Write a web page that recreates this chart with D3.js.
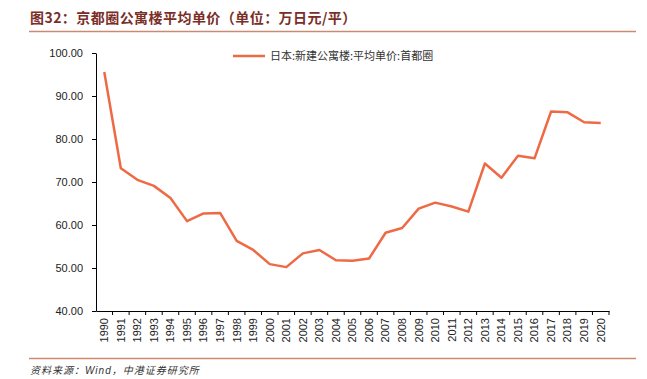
<!DOCTYPE html>
<html><head><meta charset="utf-8">
<script src="https://cdn.jsdelivr.net/npm/d3@7"></script>
<style>body{margin:0;background:#fff;}svg{display:block;}</style>
</head><body>
<svg id="c" width="647" height="379"></svg>
<script>
const years = ["1990","1991","1992","1993","1994","1995","1996","1997","1998","1999","2000","2001","2002","2003","2004","2005","2006","2007","2008","2009","2010","2011","2012","2013","2014","2015","2016","2017","2018","2019","2020"];
const prices = [95.6,73.2,70.5,69.1,66.3,60.9,62.7,62.8,56.3,54.2,50.9,50.2,53.4,54.2,51.8,51.7,52.2,58.2,59.3,63.8,65.2,64.3,63.1,74.3,71.0,76.1,75.5,86.4,86.2,83.9,83.7];
const yTicks = [40,50,60,70,80,90,100];
const titleText = "图32：京都圈公寓楼平均单价（单位：万日元/平）";
const legendText = "日本:新建公寓楼:平均单价:首都圈";
const sourceText = "资料来源：Wind，中港证券研究所";

const svg = d3.select("#c");
const font = "'Liberation Sans', Arial, 'Noto Sans CJK SC', sans-serif";
const lineColor = "#ee6a44";

// title
svg.append("text").attr("x",30).attr("y",23).text(titleText)
  .attr("font-family","'Noto Sans CJK SC', sans-serif").attr("font-weight","bold")
  .attr("font-size",14).attr("letter-spacing",0.45).attr("fill","#7a2e28");
svg.append("line").attr("x1",29).attr("x2",636).attr("y1",31.5).attr("y2",31.5)
  .attr("stroke","#c98a72").attr("stroke-width",1.5);

const x = d3.scaleBand().domain(years).range([96,609]);
const y = d3.scaleLinear().domain([40,100]).range([311,53]);

const g = svg.append("g");
const yAxis = g.append("g").attr("transform","translate(96,0)")
  .call(d3.axisLeft(y).tickValues(yTicks).tickFormat(d3.format(".2f")).tickSize(4).tickSizeOuter(0));
const xAxis = g.append("g").attr("transform","translate(0,311)")
  .call(d3.axisBottom(x).tickSize(0).tickSizeOuter(0));
// ticks at band boundaries
xAxis.selectAll(".bnd").data(years).enter().append("line")
  .attr("x1",d=>x(d)+x.bandwidth()).attr("x2",d=>x(d)+x.bandwidth())
  .attr("y1",0).attr("y2",4).attr("stroke","#000");
[yAxis,xAxis].forEach(a=>{
  a.select(".domain").attr("stroke","#000");
  a.selectAll(".tick line").attr("stroke","#000");
  a.selectAll("text").attr("font-family",font).attr("font-size",11).attr("fill","#222");
});
yAxis.selectAll("text").attr("x",-13);
xAxis.selectAll(".tick text")
  .attr("transform","rotate(-90)")
  .attr("text-anchor","end").attr("dy","0.35em").attr("dx","0").attr("x",-7).attr("y",0);

// line
const line = d3.line().x((d,i)=>x(years[i])+x.bandwidth()/2).y(d=>y(d));
svg.append("path").datum(prices).attr("d",line).attr("fill","none")
  .attr("stroke",lineColor).attr("stroke-width",2.5).attr("stroke-linejoin","round");

// legend
svg.append("line").attr("x1",233).attr("x2",265).attr("y1",56).attr("y2",56)
  .attr("stroke",lineColor).attr("stroke-width",2.5);
svg.append("text").attr("x",270).attr("y",60).text(legendText)
  .attr("font-family","'Noto Sans CJK SC', sans-serif").attr("font-size",11).attr("fill","#333");

// footer
svg.append("line").attr("x1",29).attr("x2",636).attr("y1",358.5).attr("y2",358.5)
  .attr("stroke","#c98a72").attr("stroke-width",1.5);
svg.append("text").attr("x",30).attr("y",374).text(sourceText)
  .attr("font-family",font).attr("font-style","italic").attr("font-size",10)
  .attr("letter-spacing",1).attr("fill","#333");
</script>
</body></html>
